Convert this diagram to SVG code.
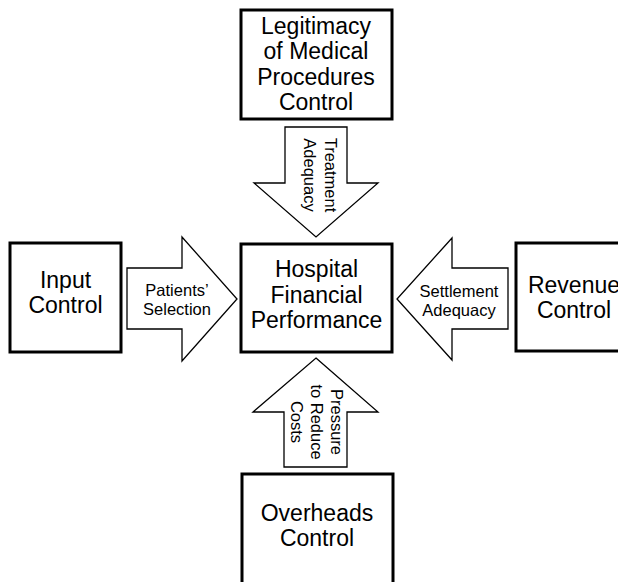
<svg xmlns="http://www.w3.org/2000/svg" width="618" height="582" viewBox="0 0 618 582">
<style>
.box{fill:#fff;stroke:#000;stroke-width:3}
.arr{fill:#fff;stroke:#000;stroke-width:1.3;stroke-linejoin:miter}
.t{font-family:"Liberation Sans",Arial,sans-serif;font-size:23px;fill:#000;text-anchor:middle}
.s{font-family:"Liberation Sans",Arial,sans-serif;font-size:16.5px;fill:#000;text-anchor:middle}
</style>
<rect width="618" height="582" fill="#fff"/>
<g id="connectors">
<g id="arrow-top">
<path class="arr" d="M285,127 H347 V183 H378 L316,237 L254,183 H285 Z"/>
<text class="s" transform="translate(325,175) rotate(90)">Treatment</text>
<text class="s" transform="translate(304,175) rotate(90)">Adequacy</text>
</g>
<g id="arrow-left">
<path class="arr" d="M127,268 H182 V237 L237,299 L182,361 V329 H127 Z"/>
<text class="s" x="177" y="296">Patients’</text>
<text class="s" x="177" y="315">Selection</text>
</g>
<g id="arrow-right">
<path class="arr" d="M508,268 H452 V238 L397,299 L452,360 V329 H508 Z"/>
<text class="s" x="459" y="297">Settlement</text>
<text class="s" x="459" y="316">Adequacy</text>
</g>
<g id="arrow-bottom">
<path class="arr" d="M316,358 L378,412 H347 V467 H284 V412 H253 Z"/>
<text class="s" transform="translate(331,422) rotate(90)">Pressure</text>
<text class="s" transform="translate(311,422) rotate(90)">to Reduce</text>
<text class="s" transform="translate(291,422) rotate(90)">Costs</text>
</g>
</g>
<g id="node-legitimacy">
<rect class="box" x="241" y="10" width="151" height="109"/>
<text class="t" x="316" y="33.5">Legitimacy</text>
<text class="t" x="316" y="59">of Medical</text>
<text class="t" x="316" y="84.5">Procedures</text>
<text class="t" x="316" y="110">Control</text>
</g>
<g id="node-hospital">
<rect class="box" x="241" y="244" width="151" height="108"/>
<text class="t" x="316.5" y="277">Hospital</text>
<text class="t" x="316.5" y="303">Financial</text>
<text class="t" x="316.5" y="328">Performance</text>
</g>
<g id="node-input">
<rect class="box" x="10" y="243" width="111" height="109"/>
<text class="t" x="65.5" y="288">Input</text>
<text class="t" x="65.5" y="313">Control</text>
</g>
<g id="node-revenue">
<rect class="box" x="516" y="243" width="120" height="108"/>
<text class="t" x="574" y="293">Revenue</text>
<text class="t" x="574" y="318">Control</text>
</g>
<g id="node-overheads">
<rect class="box" x="242" y="474" width="151" height="110"/>
<text class="t" x="317" y="521">Overheads</text>
<text class="t" x="317" y="546">Control</text>
</g>
</svg>
